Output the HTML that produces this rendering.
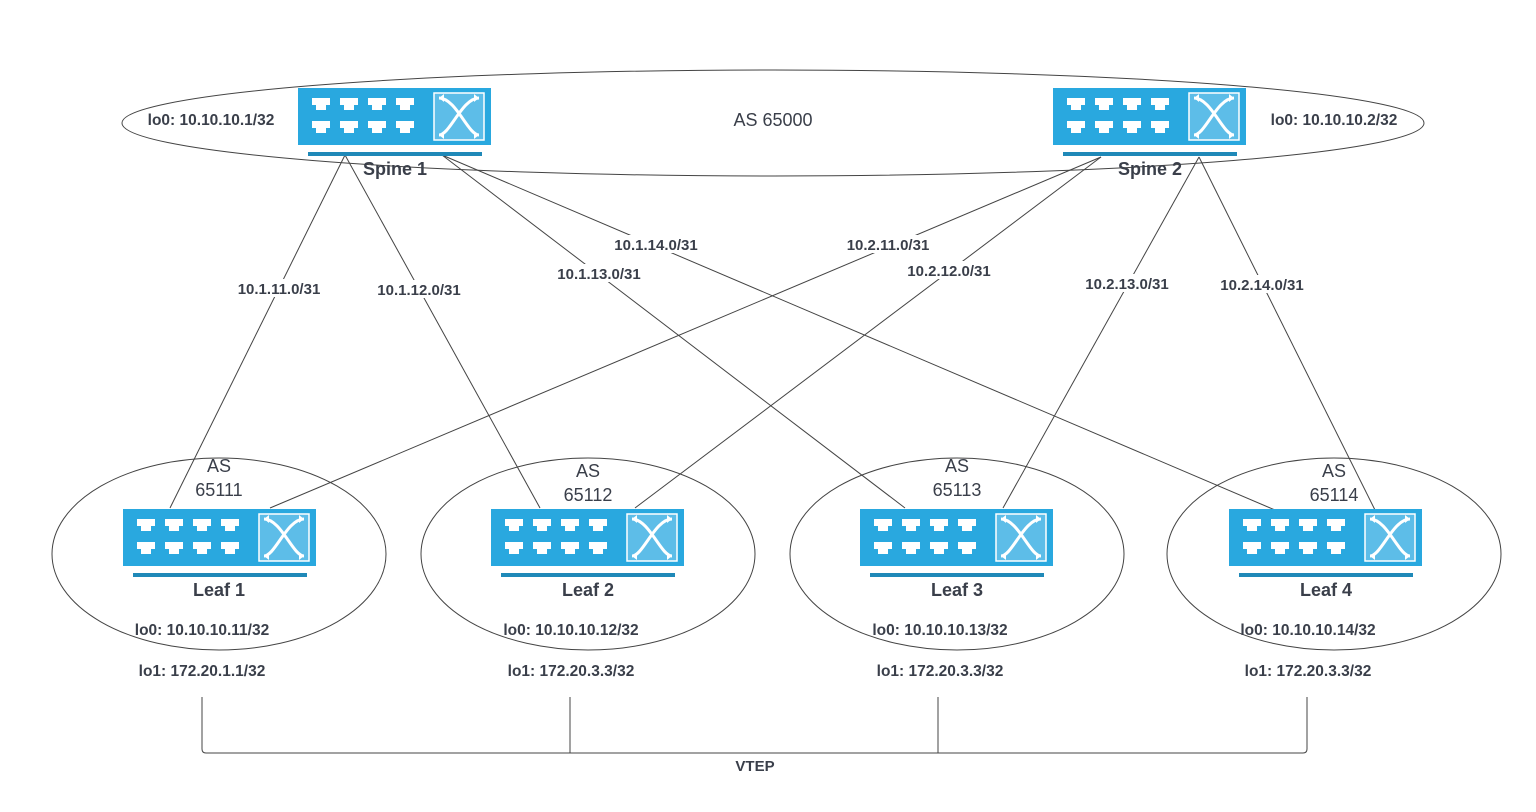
<!DOCTYPE html>
<html><head><meta charset="utf-8"><style>
html,body{margin:0;padding:0;background:#fff}
svg{display:block}
text{font-family:"Liberation Sans",Arial,sans-serif;fill:#3a3f4a}
.b{font-weight:bold;font-size:15.5px}
.n{font-weight:bold;font-size:18px}
.l{font-weight:bold;font-size:15px}
.m{font-weight:bold;font-size:15.5px}
</style></head><body>
<svg width="1536" height="812" viewBox="0 0 1536 812" xmlns="http://www.w3.org/2000/svg">
<defs>
<g id="t"><rect x="0" y="0" width="18" height="7"/><rect x="4" y="6" width="10" height="6"/></g>
<g id="sw">
<rect x="0" y="0" width="193" height="57" fill="#29a8df"/>
<g fill="#fff">
<use href="#t" x="14" y="10"/><use href="#t" x="42" y="10"/><use href="#t" x="70" y="10"/><use href="#t" x="98" y="10"/>
<use href="#t" x="14" y="33"/><use href="#t" x="42" y="33"/><use href="#t" x="70" y="33"/><use href="#t" x="98" y="33"/>
</g>
<rect x="136" y="5" width="50" height="47" fill="#5dbde8" stroke="#fff" stroke-width="1.5"/>
<path d="M141 10 C158 10,170 47,181 47 M181 10 C164 10,152 47,141 47" fill="none" stroke="#fff" stroke-width="3"/>
<path d="M141 10l5-4v8z M181 10l-5-4v8z M141 47l5-4v8z M181 47l-5-4v8z" fill="#fff"/>
<rect x="10" y="64" width="174" height="4" fill="#1f89b8"/>
</g>
</defs>
<g fill="none" stroke="#444" stroke-width="1">
<ellipse cx="773" cy="123" rx="651" ry="53"/>
<ellipse cx="219" cy="554" rx="167" ry="96"/>
<ellipse cx="588" cy="554" rx="167" ry="96"/>
<ellipse cx="957" cy="554" rx="167" ry="96"/>
<ellipse cx="1334" cy="554" rx="167" ry="96"/>
<line x1="345" y1="155" x2="170" y2="508"/>
<line x1="345" y1="155" x2="540" y2="508"/>
<line x1="442" y1="155" x2="905" y2="508"/>
<line x1="442" y1="155" x2="1275" y2="510"/>
<line x1="1101" y1="157" x2="270" y2="508"/>
<line x1="1101" y1="157" x2="635" y2="508"/>
<line x1="1199" y1="157" x2="1003" y2="508"/>
<line x1="1199" y1="157" x2="1375" y2="510"/>
<path d="M202 697V749q0 4 4 4H1303q4 0 4-4V697 M570 697V753 M938 697V753"/>
</g>
<use href="#sw" x="298" y="88"/>
<use href="#sw" x="1053" y="88"/>
<use href="#sw" x="123" y="509"/>
<use href="#sw" x="491" y="509"/>
<use href="#sw" x="860" y="509"/>
<use href="#sw" x="1229" y="509"/>
<g text-anchor="middle">
<text class="n" x="395" y="175">Spine 1</text>
<text class="n" x="1150" y="175">Spine 2</text>
<text class="n" x="219" y="596">Leaf 1</text>
<text class="n" x="588" y="596">Leaf 2</text>
<text class="n" x="957" y="596">Leaf 3</text>
<text class="n" x="1326" y="596">Leaf 4</text>
<text x="773" y="126" font-size="18">AS 65000</text>
<text x="219" y="472" font-size="18">AS</text><text x="219" y="496" font-size="18">65111</text>
<text x="588" y="477" font-size="18">AS</text><text x="588" y="501" font-size="18">65112</text>
<text x="957" y="472" font-size="18">AS</text><text x="957" y="496" font-size="18">65113</text>
<text x="1334" y="477" font-size="18">AS</text><text x="1334" y="501" font-size="18">65114</text>
<text class="b" x="211" y="125">lo0: 10.10.10.1/32</text>
<text class="b" x="1334" y="125">lo0: 10.10.10.2/32</text>
<text class="m" x="202" y="635">lo0: 10.10.10.11/32</text>
<text class="m" x="571" y="635">lo0: 10.10.10.12/32</text>
<text class="m" x="940" y="635">lo0: 10.10.10.13/32</text>
<text class="m" x="1308" y="635">lo0: 10.10.10.14/32</text>
<text class="m" x="202" y="676">lo1: 172.20.1.1/32</text>
<text class="m" x="571" y="676">lo1: 172.20.3.3/32</text>
<text class="m" x="940" y="676">lo1: 172.20.3.3/32</text>
<text class="m" x="1308" y="676">lo1: 172.20.3.3/32</text>
<text class="l" x="755" y="771">VTEP</text>
</g>
<g text-anchor="middle">
<g fill="#fff">
<rect x="234" y="279" width="90" height="18"/><rect x="374" y="280" width="90" height="18"/>
<rect x="554" y="264" width="90" height="18"/><rect x="611" y="235" width="90" height="18"/>
<rect x="843" y="235" width="90" height="18"/><rect x="904" y="261" width="90" height="18"/>
<rect x="1082" y="274" width="90" height="18"/><rect x="1217" y="275" width="90" height="18"/>
</g>
<text class="l" x="279" y="294">10.1.11.0/31</text>
<text class="l" x="419" y="295">10.1.12.0/31</text>
<text class="l" x="599" y="279">10.1.13.0/31</text>
<text class="l" x="656" y="250">10.1.14.0/31</text>
<text class="l" x="888" y="250">10.2.11.0/31</text>
<text class="l" x="949" y="276">10.2.12.0/31</text>
<text class="l" x="1127" y="289">10.2.13.0/31</text>
<text class="l" x="1262" y="290">10.2.14.0/31</text>
</g>
</svg>
</body></html>
